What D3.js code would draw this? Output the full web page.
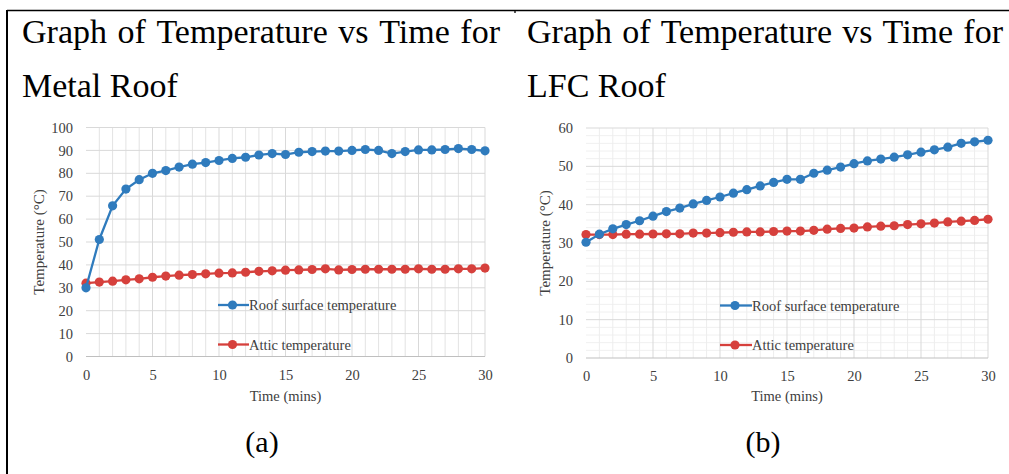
<!DOCTYPE html>
<html>
<head>
<meta charset="utf-8">
<script src="https://cdn.jsdelivr.net/npm/d3@7"></script>
<style>
  html, body { margin: 0; padding: 0; background: #fff; }
  svg { display: block; }
  svg text { font-family: "Liberation Serif", "Times New Roman", Times, "DejaVu Serif", serif; }
</style>
</head>
<body>
<svg id="chart" width="1009" height="474"></svg>
<script>
// ---------------- data ----------------
const minutes = [0,1,2,3,4,5,6,7,8,9,10,11,12,13,14,15,16,17,18,19,20,21,22,23,24,25,26,27,28,29,30];
const metalRoofSurface = [30.0,51.1,65.8,73.1,77.2,80.0,81.2,82.7,84.0,84.7,85.6,86.5,87.0,88.0,88.6,88.2,89.2,89.5,89.7,89.7,90.0,90.4,90.0,88.6,89.5,90.2,90.2,90.4,90.8,90.4,89.8];
const metalAttic = [32.0,32.5,32.9,33.5,33.9,34.6,35.1,35.5,35.8,36.1,36.4,36.5,36.8,37.2,37.4,37.7,37.8,38.0,38.3,37.8,38.0,38.1,38.1,38.1,38.1,38.3,38.1,38.1,38.3,38.3,38.6];
const lfcRoofSurface = [30.2,32.3,33.7,34.8,35.8,37.0,38.2,39.1,40.2,41.1,42.0,43.0,43.9,44.9,45.8,46.6,46.6,48.2,49.0,49.8,50.7,51.4,51.9,52.4,53.0,53.7,54.3,55.0,56.0,56.4,56.8];
const lfcAttic = [32.2,32.2,32.2,32.3,32.3,32.35,32.4,32.4,32.6,32.6,32.7,32.8,32.9,32.9,33.0,33.1,33.1,33.3,33.6,33.8,33.9,34.2,34.4,34.5,34.8,35.0,35.2,35.5,35.7,35.9,36.2];
const xTicks = [0,5,10,15,20,25,30];
const yTicksMetal = [0,10,20,30,40,50,60,70,80,90,100];
const yTicksLfc = [0,10,20,30,40,50,60];
const yMinorLfc = [2,4,6,8,12,14,16,18,22,24,26,28,32,34,36,38,42,44,46,48,52,54,56,58];
const seriesNames = ["Roof surface temperature", "Attic temperature"];
const seriesColors = ["#2f7bbd", "#d6403c"];
const titleLine1 = "Graph of Temperature vs Time for";
const titles2 = ["Metal Roof", "LFC Roof"];
const captions = ["(a)", "(b)"];
const yAxisTitle = "Temperature (\u00B0C)";
const xAxisTitle = "Time (mins)";

// ---------------- drawing ----------------
const svg = d3.select("#chart");

// table frame
svg.append("line").attr("x1", 7).attr("x2", 1009).attr("y1", 10.5).attr("y2", 10.5)
  .attr("stroke", "#000").attr("stroke-width", 1.3);
svg.append("line").attr("x1", 7).attr("x2", 7).attr("y1", 10).attr("y2", 474)
  .attr("stroke", "#000").attr("stroke-width", 2);
svg.append("line").attr("x1", 515).attr("x2", 515).attr("y1", 10).attr("y2", 13)
  .attr("stroke", "#000").attr("stroke-width", 1.3);

// justified title line
function justified(x0, x1, y, text) {
  const words = text.split(" ");
  const g = svg.append("g");
  const nodes = words.map(w => g.append("text").text(w)
    .attr("font-size", 34).attr("fill", "#000").attr("y", y));
  const widths = nodes.map(n => n.node().getComputedTextLength());
  const total = d3.sum(widths);
  const gap = (x1 - x0 - total) / (words.length - 1);
  let x = x0;
  nodes.forEach((n, i) => { n.attr("x", x); x += widths[i] + gap; });
}

const panels = [
  { x0: 86, x1: 485, yTop: 127.5, yBot: 356.5, ymax: 100, yTicks: yTicksMetal, yMinor: [],
    data: [metalRoofSurface, metalAttic], titleX: 22, titleX1: 500, minorX: "#e3e3e3",
    legX: 218, legTextX: 249, legY: [305, 344.5], yTitleX: 38.5, caption: 262 },
  { x0: 586, x1: 988, yTop: 128, yBot: 358, ymax: 60, yTicks: yTicksLfc, yMinor: yMinorLfc,
    data: [lfcRoofSurface, lfcAttic], titleX: 527, titleX1: 1003, minorX: "#ededed",
    legX: 720, legTextX: 752, legY: [305.5, 345], yTitleX: 545, caption: 763 }
];

panels.forEach((p, pi) => {
  justified(p.titleX, p.titleX1, 43, titleLine1);
  svg.append("text").text(titles2[pi]).attr("x", p.titleX).attr("y", 97)
    .attr("font-size", 34).attr("fill", "#000");

  const x = d3.scaleLinear().domain([0, 30]).range([p.x0, p.x1]);
  const y = d3.scaleLinear().domain([0, p.ymax]).range([p.yBot, p.yTop]);
  const g = svg.append("g");

  // minor grid
  g.selectAll(".my").data(p.yMinor).enter().append("line")
    .attr("x1", p.x0).attr("x2", p.x1).attr("y1", d => y(d)).attr("y2", d => y(d))
    .attr("stroke", "#f0f0f0").attr("stroke-width", 1);
  g.selectAll(".mx").data(minutes.filter(m => m % 5 !== 0)).enter().append("line")
    .attr("x1", d => x(d)).attr("x2", d => x(d)).attr("y1", p.yTop).attr("y2", p.yBot)
    .attr("stroke", p.minorX).attr("stroke-width", 1);
  // major grid
  g.selectAll(".gy").data(p.yTicks.slice(1)).enter().append("line")
    .attr("x1", p.x0).attr("x2", p.x1).attr("y1", d => y(d)).attr("y2", d => y(d))
    .attr("stroke", "#d9d9d9").attr("stroke-width", 1);
  g.selectAll(".gx").data(xTicks.slice(1)).enter().append("line")
    .attr("x1", d => x(d)).attr("x2", d => x(d)).attr("y1", p.yTop).attr("y2", p.yBot)
    .attr("stroke", "#d9d9d9").attr("stroke-width", 1);
  // baseline
  g.append("line").attr("x1", p.x0).attr("x2", p.x1).attr("y1", p.yBot).attr("y2", p.yBot)
    .attr("stroke", "#bfbfbf").attr("stroke-width", 1.2);

  // axes (labels only)
  const ax = g.append("g").attr("transform", `translate(${p.x0},0)`)
    .call(d3.axisLeft(y).tickValues(p.yTicks).tickSize(0).tickPadding(13).tickFormat(d3.format("d")));
  ax.select(".domain").remove();
  ax.attr("font-family", null);
  ax.selectAll("text").attr("font-size", 14.5).attr("fill", "#404040");
  const bx = g.append("g").attr("transform", `translate(0,${p.yBot})`)
    .call(d3.axisBottom(x).tickValues(xTicks).tickSize(0).tickPadding(13).tickFormat(d3.format("d")));
  bx.select(".domain").remove();
  bx.attr("font-family", null);
  bx.selectAll("text").attr("font-size", 14.5).attr("fill", "#404040");

  // axis titles
  g.append("text").text(yAxisTitle)
    .attr("transform", `translate(${p.yTitleX},${(p.yTop + p.yBot) / 2}) rotate(-90)`)
    .attr("text-anchor", "middle").attr("dominant-baseline", "central")
    .attr("font-size", 15).attr("fill", "#404040");
  g.append("text").text(xAxisTitle)
    .attr("x", (p.x0 + p.x1) / 2).attr("y", 401).attr("text-anchor", "middle")
    .attr("font-size", 14.5).attr("fill", "#404040");

  // series
  const line = d3.line().x((d, i) => x(minutes[i])).y(d => y(d));
  [1, 0].forEach(si => {
    const vals = p.data[si];
    g.append("path").datum(vals).attr("d", line).attr("fill", "none")
      .attr("stroke", seriesColors[si]).attr("stroke-width", 2.3);
    g.selectAll(null).data(vals).enter().append("circle")
      .attr("cx", (d, i) => x(minutes[i])).attr("cy", d => y(d)).attr("r", 4.6)
      .attr("fill", seriesColors[si]);
  });

  // legend
  seriesNames.forEach((name, si) => {
    const ly = p.legY[si];
    g.append("line").attr("x1", p.legX).attr("x2", p.legTextX).attr("y1", ly).attr("y2", ly)
      .attr("stroke", seriesColors[si]).attr("stroke-width", 2.3);
    g.append("circle").attr("cx", (p.legX + p.legTextX) / 2 - 1).attr("cy", ly).attr("r", 4.6)
      .attr("fill", seriesColors[si]);
    g.append("text").text(name).attr("x", p.legTextX).attr("y", ly).attr("dominant-baseline", "central")
      .attr("font-size", 14.5).attr("fill", "#404040");
  });

  // caption
  svg.append("text").text(captions[pi]).attr("x", p.caption).attr("y", 452).attr("text-anchor", "middle")
    .attr("font-size", 30).attr("fill", "#000");
});
</script>
</body>
</html>
